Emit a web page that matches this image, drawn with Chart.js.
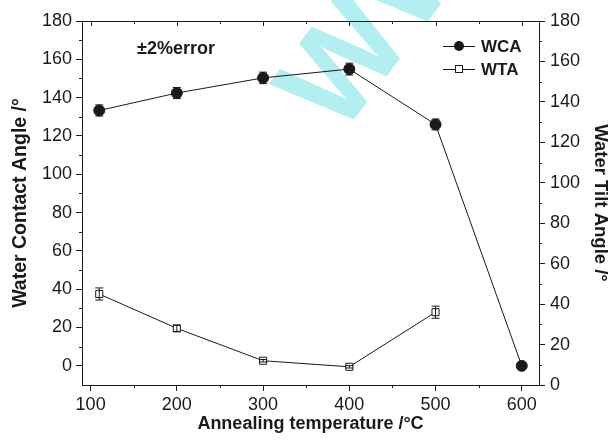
<!DOCTYPE html>
<html>
<head>
<meta charset="utf-8">
<script src="https://cdn.jsdelivr.net/npm/chart.js@4.4.1/dist/chart.umd.min.js"></script>
<style>
  html, body { margin: 0; padding: 0; background: #fff; }
  #wrap { width: 611px; height: 441px; position: relative; }
</style>
</head>
<body>
<div id="wrap"><canvas id="chart"></canvas></div>
<script>
'use strict';

/* ---------- data ---------- */
const temps    = [110, 200, 300, 400, 500, 600];
const wcaVals  = [133.3, 142.4, 150.3, 154.9, 126, 0];
const wcaErr   = [2.9, 2.9, 3.0, 3.1, 2.8, 0];
const wtaTemps = [110, 200, 300, 400, 500];
const wtaVals  = [45, 28, 12, 9, 36];
const wtaErr   = [3, 1.5, 0.6, 0.6, 3];

const xTicks      = [100, 200, 300, 400, 500, 600];
const xMinor      = [150, 250, 350, 450, 550];
const leftTicks   = [0, 20, 40, 60, 80, 100, 120, 140, 160, 180];
const leftMinor   = [10, 30, 50, 70, 90, 110, 130, 150, 170];
const rightTicks  = [0, 20, 40, 60, 80, 100, 120, 140, 160, 180];
const rightMinor  = [10, 30, 50, 70, 90, 110, 130, 150, 170];

const FONT = '"Liberation Sans", Arial, Helvetica, sans-serif';
const INK  = '#1a1a1a';

/* ---------- helpers ---------- */
function fixTicks(list) {
  return scale => { scale.ticks = list.map(v => ({ value: v })); };
}

const errorBars = {
  id: 'errorBars',
  afterDatasetsDraw(chart) {
    const { ctx } = chart;
    const x = chart.scales.x;
    const sets = [
      { xs: temps,    ys: wcaVals, es: wcaErr, axis: 'y'  },
      { xs: wtaTemps, ys: wtaVals, es: wtaErr, axis: 'y2' },
    ];
    ctx.save();
    ctx.strokeStyle = INK;
    ctx.lineWidth = 1;
    sets.forEach(s => {
      const y = chart.scales[s.axis];
      s.xs.forEach((t, i) => {
        if (!s.es[i]) return;
        const px = x.getPixelForValue(t);
        const top = y.getPixelForValue(s.ys[i] + s.es[i]);
        const bot = y.getPixelForValue(s.ys[i] - s.es[i]);
        ctx.beginPath();
        ctx.moveTo(px, top); ctx.lineTo(px, bot);
        ctx.moveTo(px - 4, top); ctx.lineTo(px + 4, top);
        ctx.moveTo(px - 4, bot); ctx.lineTo(px + 4, bot);
        ctx.stroke();
      });
    });
    ctx.restore();
  }
};

const frameExtras = {
  id: 'frameExtras',
  beforeDraw(chart) {
    // faint watermark behind the plot
    const { ctx } = chart;
    ctx.save();
    ctx.translate(340, 138);
    ctx.rotate(-53 * Math.PI / 180);
    ctx.font = 'bold 130px ' + FONT;
    ctx.fillStyle = '#b3eef0';
    ctx.textAlign = 'left';
    ctx.textBaseline = 'alphabetic';
    ctx.fillText('WWW', 0, 0);
    ctx.restore();
  },
  afterDraw(chart) {
    const { ctx, chartArea: a } = chart;
    const x = chart.scales.x, yl = chart.scales.y, yr = chart.scales.y2;
    ctx.save();
    ctx.strokeStyle = INK;
    ctx.lineWidth = 1;
    ctx.beginPath();
    // top border + inward ticks
    ctx.moveTo(a.left, a.top + 0.5); ctx.lineTo(a.right, a.top + 0.5);
    xTicks.forEach(v => { const p = Math.round(x.getPixelForValue(v)) + 0.5; ctx.moveTo(p, a.top); ctx.lineTo(p, a.top + 5); });
    xMinor.forEach(v => { const p = Math.round(x.getPixelForValue(v)) + 0.5; ctx.moveTo(p, a.top); ctx.lineTo(p, a.top + 3); });
    // minor outward ticks
    xMinor.forEach(v => { const p = Math.round(x.getPixelForValue(v)) + 0.5; ctx.moveTo(p, a.bottom); ctx.lineTo(p, a.bottom + 3); });
    leftMinor.forEach(v => { const p = Math.round(yl.getPixelForValue(v)) + 0.5; ctx.moveTo(a.left, p); ctx.lineTo(a.left - 3, p); });
    rightMinor.forEach(v => { const p = Math.round(yr.getPixelForValue(v)) + 0.5; ctx.moveTo(a.right, p); ctx.lineTo(a.right + 3, p); });
    ctx.stroke();

    // error note
    ctx.fillStyle = INK;
    ctx.font = 'bold 18px ' + FONT;
    ctx.textBaseline = 'middle';
    ctx.textAlign = 'left';
    ctx.fillText('\u00b12%error', 137, 49);

    // legend
    const ds = chart.data.datasets;
    const rows = [{ y: 46, d: ds[0] }, { y: 69, d: ds[1] }];
    rows.forEach(r => {
      ctx.beginPath();
      ctx.moveTo(443, r.y + 0.5); ctx.lineTo(475, r.y + 0.5);
      ctx.stroke();
      if (r.d.pointStyle === 'rect') {
        ctx.fillStyle = '#fff';
        ctx.fillRect(455.5, r.y - 3.5, 7, 7);
        ctx.strokeRect(455.5, r.y - 3.5, 7, 7);
      } else {
        ctx.fillStyle = INK;
        ctx.beginPath(); ctx.arc(459, r.y, 5, 0, Math.PI * 2); ctx.fill();
      }
      ctx.fillStyle = INK;
      ctx.font = 'bold 17px ' + FONT;
      ctx.fillText(r.d.label, 481, r.y + 1);
    });
    ctx.restore();
  }
};

/* ---------- chart ---------- */
const tickFont = { family: FONT, size: 18 };

new Chart(document.getElementById('chart'), {
  type: 'line',
  data: {
    datasets: [
      {
        label: 'WCA',
        data: temps.map((t, i) => ({ x: t, y: wcaVals[i] })),
        yAxisID: 'y',
        borderColor: INK, borderWidth: 1,
        pointStyle: 'circle', pointRadius: 5.5,
        pointBackgroundColor: INK, pointBorderColor: INK,
        tension: 0
      },
      {
        label: 'WTA',
        data: wtaTemps.map((t, i) => ({ x: t, y: wtaVals[i] })),
        yAxisID: 'y2',
        borderColor: INK, borderWidth: 1,
        pointStyle: 'rect', pointRadius: 5,
        pointBackgroundColor: '#fff', pointBorderColor: INK, pointBorderWidth: 1,
        tension: 0
      }
    ]
  },
  options: {
    responsive: true,
    maintainAspectRatio: false,
    animation: false,
    layout: { padding: { top: 21, left: 0, right: 0, bottom: 0 } },
    plugins: { legend: { display: false }, tooltip: { enabled: false } },
    scales: {
      x: {
        type: 'linear', min: 90, max: 620,
        afterBuildTicks: fixTicks(xTicks),
        afterFit: s => { s.height = 56; },
        grid: { drawOnChartArea: false, tickLength: 6, tickColor: INK },
        border: { color: INK, width: 1 },
        ticks: { color: INK, font: tickFont, padding: 3, maxRotation: 0 },
        title: { display: true, text: 'Annealing temperature /\u00b0C', color: INK,
                 font: { family: FONT, size: 18, weight: 'bold' }, padding: { top: 0, bottom: 6 } }
      },
      y: {
        position: 'left', min: -10, max: 180,
        afterBuildTicks: fixTicks(leftTicks),
        afterFit: s => { s.width = 82; },
        grid: { drawOnChartArea: false, tickLength: 6, tickColor: INK },
        border: { color: INK, width: 1 },
        ticks: { color: INK, font: tickFont, padding: 4 },
        title: { display: true, text: 'Water Contact Angle /\u00b0', color: INK,
                 font: { family: FONT, size: 19.5, weight: 'bold' }, padding: { top: 9, bottom: 0 } }
      },
      y2: {
        position: 'right', min: 0, max: 180,
        afterBuildTicks: fixTicks(rightTicks),
        afterFit: s => { s.width = 72; },
        grid: { drawOnChartArea: false, tickLength: 6, tickColor: INK },
        border: { color: INK, width: 1 },
        ticks: { color: INK, font: tickFont, padding: 5 },
        title: { display: true, text: 'Water Tilt Angle /\u00b0', color: INK,
                 font: { family: FONT, size: 18.5, weight: 'bold' }, padding: { top: 0, bottom: 0 } }
      }
    }
  },
  plugins: [errorBars, frameExtras]
});
</script>
</body>
</html>
